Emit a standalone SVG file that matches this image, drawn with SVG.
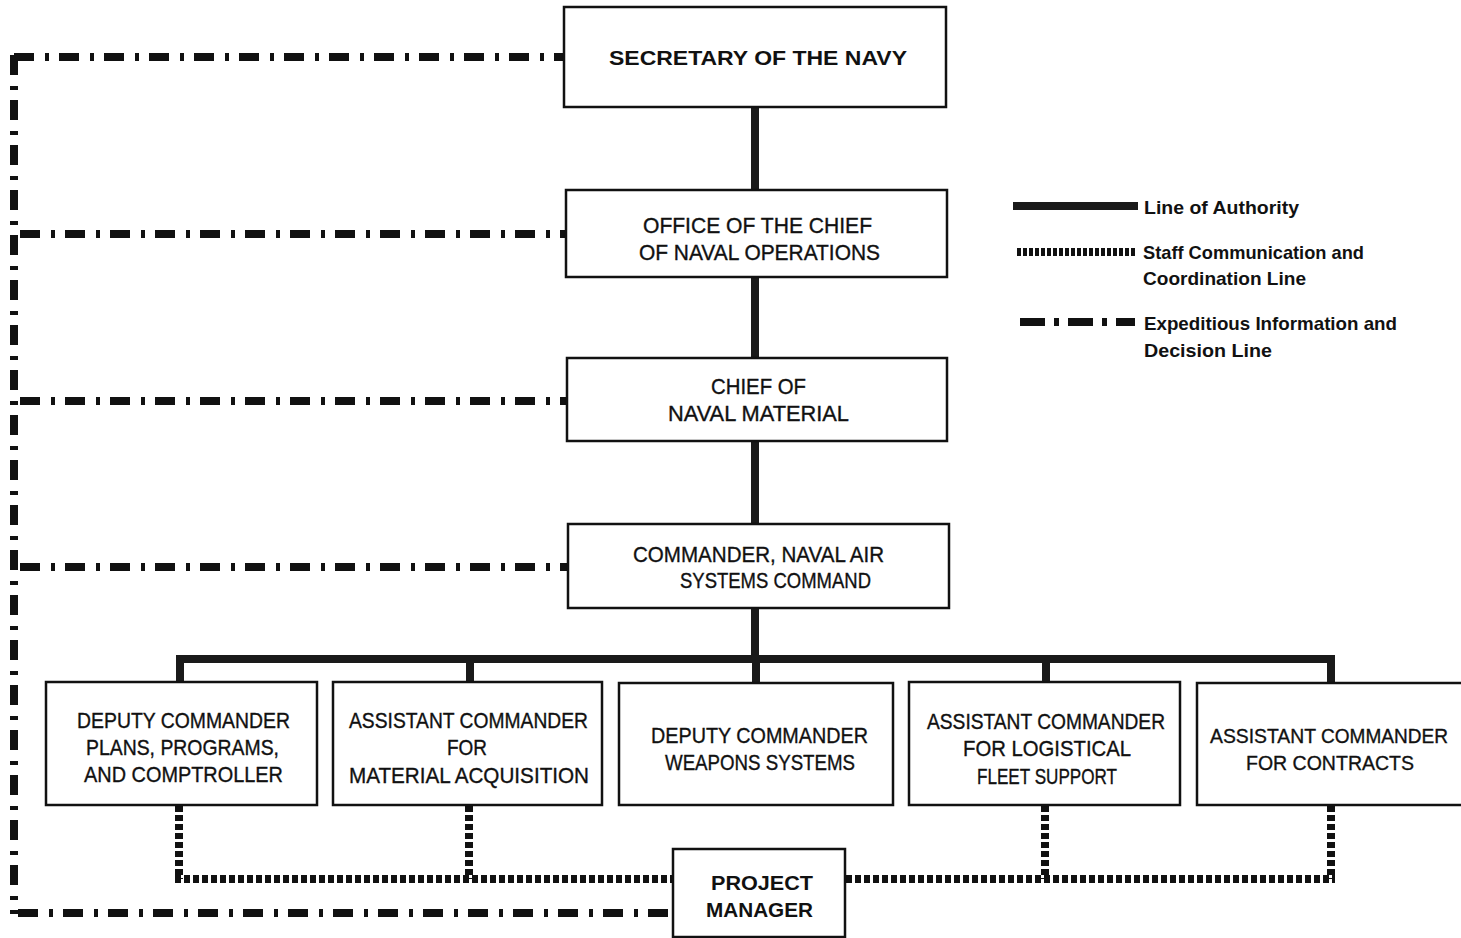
<svg xmlns="http://www.w3.org/2000/svg" width="1461" height="938" viewBox="0 0 1461 938">
<style>
.box{fill:#fff;stroke:#111;stroke-width:2.5}
.t{font-family:"Liberation Sans",Arial,sans-serif;font-size:22px;fill:#111;stroke:#111;stroke-width:0.35;text-anchor:middle}
.ts{font-size:21px}
.tb{font-family:"Liberation Sans",Arial,sans-serif;font-size:21px;font-weight:bold;fill:#111;text-anchor:middle}
.lg{font-family:"Liberation Sans",Arial,sans-serif;font-size:19px;font-weight:bold;fill:#111}
.auth{fill:none;stroke:#1a1a1a;stroke-width:8;stroke-linecap:square}
.staff{fill:none;stroke:#111;stroke-width:8;stroke-dasharray:6 3}
.exp{fill:none;stroke:#111;stroke-width:8;stroke-dasharray:20 11 4 10}
</style>
<rect width="1461" height="938" fill="#fff"/>
<g id="connectors">
<path class="auth" d="M755,107 V659 M180,659 H1331 M180,659 V682 M470,659 V682 M756,659 V682 M1046,659 V682 M1331,659 V682"/>
<path class="staff" d="M179,806 V879 M469,806 V879 M1045,806 V879 M1331,806 V879"/>
<path class="staff" d="M175,879 H672 M846,879 H1335"/>
<path class="exp" d="M14,57 H563"/>
<path class="exp" d="M20,234 H565"/>
<path class="exp" d="M20,401 H567"/>
<path class="exp" d="M20,567 H567"/>
<path class="exp" d="M14,55 V914"/>
<path class="exp" d="M18,913 H672"/>
</g>
<g id="secnav">
<rect class="box" x="564" y="7" width="382" height="100"/>
<text class="tb" x="758" y="65" textLength="298" lengthAdjust="spacingAndGlyphs">SECRETARY OF THE NAVY</text>
</g>
<g id="cno">
<rect class="box" x="566" y="190" width="381" height="87"/>
<text class="t" x="757.5" y="233" textLength="229" lengthAdjust="spacingAndGlyphs">OFFICE OF THE CHIEF</text>
<text class="t" x="759.5" y="260" textLength="241" lengthAdjust="spacingAndGlyphs">OF NAVAL OPERATIONS</text>
</g>
<g id="cnm">
<rect class="box" x="567" y="358" width="380" height="83"/>
<text class="t" x="758.5" y="394" textLength="95" lengthAdjust="spacingAndGlyphs">CHIEF OF</text>
<text class="t" x="758.5" y="421" textLength="181" lengthAdjust="spacingAndGlyphs">NAVAL MATERIAL</text>
</g>
<g id="navair">
<rect class="box" x="568" y="524" width="381" height="84"/>
<text class="t" x="758.5" y="562" textLength="251" lengthAdjust="spacingAndGlyphs">COMMANDER, NAVAL AIR</text>
<text class="t" x="775.5" y="588" textLength="191" lengthAdjust="spacingAndGlyphs">SYSTEMS COMMAND</text>
</g>
<g id="plans">
<rect class="box" x="46" y="682" width="271" height="123"/>
<text class="t" x="183.5" y="728" textLength="213" lengthAdjust="spacingAndGlyphs">DEPUTY COMMANDER</text>
<text class="t" x="182.5" y="755" textLength="193" lengthAdjust="spacingAndGlyphs">PLANS, PROGRAMS,</text>
<text class="t" x="183.5" y="782" textLength="199" lengthAdjust="spacingAndGlyphs">AND COMPTROLLER</text>
</g>
<g id="acquisition">
<rect class="box" x="333" y="682" width="269" height="123"/>
<text class="t" x="468.5" y="728" textLength="239" lengthAdjust="spacingAndGlyphs">ASSISTANT COMMANDER</text>
<text class="t" x="467" y="755" textLength="40" lengthAdjust="spacingAndGlyphs">FOR</text>
<text class="t" x="469" y="783" textLength="240" lengthAdjust="spacingAndGlyphs">MATERIAL ACQUISITION</text>
</g>
<g id="weapons">
<rect class="box" x="619" y="683" width="274" height="122"/>
<text class="t" x="759.5" y="743" textLength="217" lengthAdjust="spacingAndGlyphs">DEPUTY COMMANDER</text>
<text class="t" x="760" y="770" textLength="190" lengthAdjust="spacingAndGlyphs">WEAPONS SYSTEMS</text>
</g>
<g id="logistical">
<rect class="box" x="909" y="682" width="271" height="123"/>
<text class="t" x="1046" y="729" textLength="238" lengthAdjust="spacingAndGlyphs">ASSISTANT COMMANDER</text>
<text class="t" x="1047" y="756" textLength="168" lengthAdjust="spacingAndGlyphs">FOR LOGISTICAL</text>
<text class="t" x="1047" y="784" textLength="140" lengthAdjust="spacingAndGlyphs">FLEET SUPPORT</text>
</g>
<g id="contracts">
<path class="box" d="M1461,683 H1197 V805 H1461"/>
<text class="t ts" x="1263" y="743" textLength="106" lengthAdjust="spacingAndGlyphs">ASSISTANT</text>
<text class="t ts" x="1384.5" y="743" textLength="127" lengthAdjust="spacingAndGlyphs">COMMANDER</text>
<text class="t ts" x="1330" y="770" textLength="168" lengthAdjust="spacingAndGlyphs">FOR CONTRACTS</text>
</g>
<g id="pm">
<rect class="box" x="673" y="849" width="172" height="88"/>
<text class="tb" x="762" y="890" textLength="102" lengthAdjust="spacingAndGlyphs">PROJECT</text>
<text class="tb" x="759.5" y="917" textLength="107" lengthAdjust="spacingAndGlyphs">MANAGER</text>
</g>
<g id="legend">
<path class="auth" d="M1017,206 H1134"/>
<path fill="none" stroke="#111" stroke-width="8" stroke-dasharray="4 2" d="M1017,252 H1135"/>
<path fill="none" stroke="#111" stroke-width="8" stroke-dasharray="25 9 5 9" d="M1020,322 H1135"/>
<text class="lg" x="1144" y="214" textLength="155" lengthAdjust="spacingAndGlyphs">Line of Authority</text>
<text class="lg" x="1143" y="259" textLength="221" lengthAdjust="spacingAndGlyphs">Staff Communication and</text>
<text class="lg" x="1143" y="285" textLength="163" lengthAdjust="spacingAndGlyphs">Coordination Line</text>
<text class="lg" x="1144" y="330" textLength="253" lengthAdjust="spacingAndGlyphs">Expeditious Information and</text>
<text class="lg" x="1144" y="357" textLength="128" lengthAdjust="spacingAndGlyphs">Decision Line</text>
</g>
</svg>
